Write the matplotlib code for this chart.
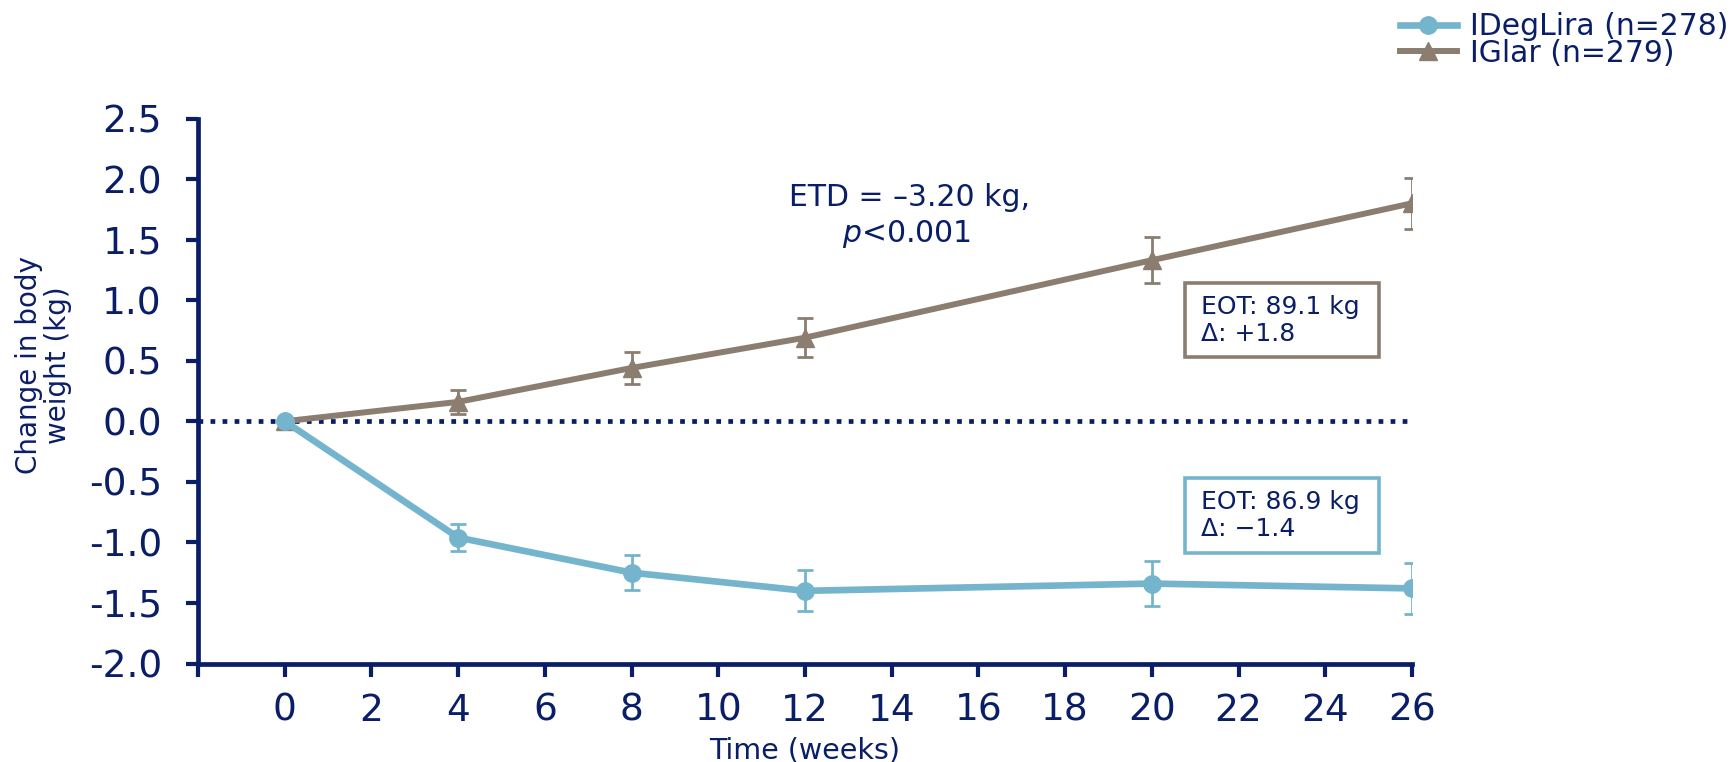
import matplotlib
matplotlib.use('Agg')
import matplotlib.pyplot as plt
from matplotlib.lines import Line2D
from matplotlib.patches import Rectangle

# data
weeks = [0, 4, 8, 12, 20, 26]
ideglira = [0.0, -0.96, -1.25, -1.40, -1.34, -1.38]
ideglira_err = [0.0, 0.115, 0.145, 0.17, 0.185, 0.21]
iglar = [0.0, 0.16, 0.44, 0.69, 1.33, 1.80]
iglar_err = [0.0, 0.10, 0.13, 0.16, 0.19, 0.21]

x_ticks = list(range(-2, 27, 2))
x_labels = [''] + [str(t) for t in range(0, 27, 2)]
y_ticks = [-2.0, -1.5, -1.0, -0.5, 0.0, 0.5, 1.0, 1.5, 2.0, 2.5]

# end-of-treatment boxes: (x0, x1, y0, y1) in data units, text
eot_iglar = (20.77, 25.25, 0.53, 1.14)
eot_ideglira = (20.77, 25.25, -1.09, -0.47)

navy = '#0a1e68'
blue = '#74b5cd'
brown = '#8b7d70'

W, H = 1732, 762
fig = plt.figure(figsize=(W / 100, H / 100), dpi=100)
ax = fig.add_axes([198 / W, 1 - 663.5 / H, (1412 - 198) / W, (663.5 - 118.5) / H])

# zero reference line
ax.plot([-2, 26], [0, 0], linestyle=(0, (1, 1.55)), color=navy, lw=3.4,
        dash_capstyle='butt', zorder=1)

ax.errorbar(weeks, iglar, yerr=iglar_err, color=brown, lw=4.3, marker='^', ms=12.5,
            capsize=5.5, elinewidth=2, capthick=2, zorder=3)
ax.errorbar(weeks, ideglira, yerr=ideglira_err, color=blue, lw=4.8, marker='o', ms=12.5,
            capsize=5.5, elinewidth=2, capthick=2, zorder=4)

ax.set_xlim(-2, 26)
ax.set_ylim(-2.0, 2.5)
ax.set_xticks(x_ticks)
ax.set_xticklabels(x_labels)
ax.set_yticks(y_ticks)
ax.set_yticklabels([f'{v:.1f}' for v in y_ticks])

for side in ['top', 'right']:
    ax.spines[side].set_visible(False)
for side in ['left', 'bottom']:
    ax.spines[side].set_color(navy)
    ax.spines[side].set_linewidth(3.4)
ax.tick_params(colors=navy, labelsize=27, width=3, length=9, direction='out')
ax.tick_params(axis='x', pad=12)
ax.tick_params(axis='y', pad=17)

ax.set_ylabel('Change in body\nweight (kg)', fontsize=20, color=navy, linespacing=1.05)
ax.yaxis.set_label_coords(-0.104, 0.548)
ax.set_xlabel('Time (weeks)', fontsize=20.5, color=navy, labelpad=6)

# annotations
ax.text(14.4, 1.85, 'ETD = \u20133.20 kg,', fontsize=21.5, color=navy, ha='center', va='center')
ax.text(14.35, 1.55, r'$p$<0.001', fontsize=21.5, color=navy, ha='center', va='center')

for (x0, x1, y0, y1), ec, txt in [(eot_iglar, brown, 'EOT: 89.1 kg\n\u0394: +1.8'),
                                  (eot_ideglira, blue, 'EOT: 86.9 kg\n\u0394: \u22121.4')]:
    ax.add_patch(Rectangle((x0, y0), x1 - x0, y1 - y0, fc='white', ec=ec, lw=2.6, zorder=5))
    ax.text(x0 + 0.37, (y0 + y1) / 2, txt, fontsize=18, color=navy, ha='left',
            va='center', linespacing=1.15, zorder=6)

handles = [Line2D([], [], color=blue, lw=4.8, marker='o', ms=12.5),
           Line2D([], [], color=brown, lw=4.3, marker='^', ms=12.5)]
fig.legend(handles, ['IDegLira (n=278)', 'IGlar (n=279)'], loc='center left',
           bbox_to_anchor=(1400 / W, 1 - 40 / H), borderaxespad=0, borderpad=0,
           frameon=False, fontsize=21.5, handlelength=1.9, handletextpad=0.43,
           labelspacing=-0.1, labelcolor=navy)

fig.savefig('out.png', dpi=100)
plt.close()
